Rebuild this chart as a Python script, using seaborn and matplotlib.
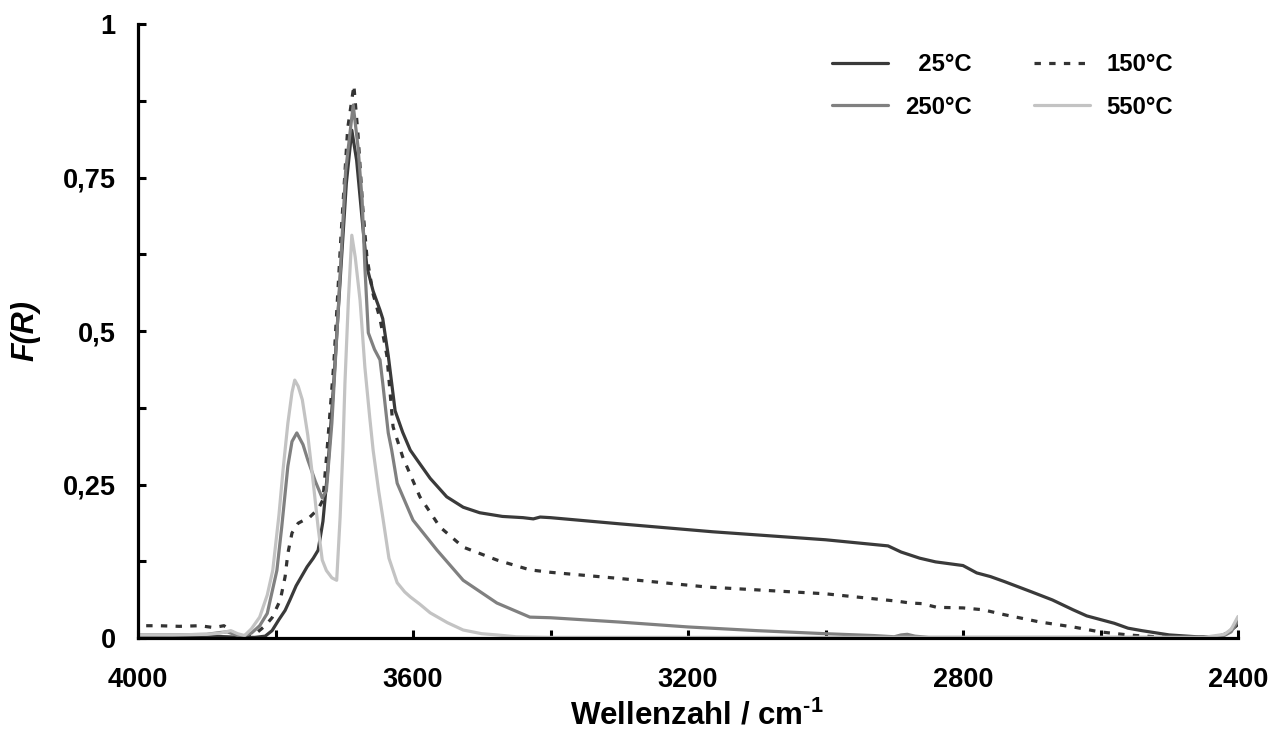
import numpy as np
import pandas as pd
import matplotlib
matplotlib.use("Agg")
import matplotlib.pyplot as plt
import seaborn as sns
from matplotlib.ticker import FixedLocator, FuncFormatter

# ---- data ----
wn_25 = [4000, 3950, 3900, 3870, 3850, 3830, 3815, 3805, 3795, 3786, 3779, 3770, 3754, 3745, 3738,
         3731, 3724, 3715, 3705, 3697, 3689, 3682, 3673, 3667, 3658, 3648, 3644, 3636, 3631, 3626,
         3615, 3604, 3594, 3575, 3551, 3527, 3503, 3470, 3440, 3425, 3415, 3400, 3300, 3164, 3000,
         2909, 2890, 2863, 2840, 2820, 2800, 2780, 2760, 2740, 2700, 2670, 2640, 2620, 2600, 2580,
         2560, 2540, 2500, 2460, 2430, 2415, 2400]
fr_25 = [0.002, 0.002, 0.003, 0.002, 0.001, 0.001, 0.003, 0.012, 0.03, 0.045, 0.062, 0.085, 0.116, 0.13, 0.143,
         0.19, 0.274, 0.42, 0.6, 0.74, 0.827, 0.778, 0.67, 0.604, 0.565, 0.534, 0.52, 0.46, 0.415, 0.37,
         0.335, 0.306, 0.29, 0.26, 0.23, 0.213, 0.204, 0.198, 0.196, 0.194, 0.197, 0.196, 0.186, 0.173, 0.16,
         0.150, 0.14, 0.130, 0.124, 0.121, 0.118, 0.106, 0.1, 0.092, 0.075, 0.062, 0.046, 0.036, 0.03, 0.024,
         0.016, 0.012, 0.005, 0.002, 0.002, 0.008, 0.025]

wn_150 = [4000, 3970, 3940, 3910, 3890, 3875, 3865, 3855, 3845, 3830, 3815, 3805, 3793, 3786, 3782,
          3776, 3767, 3750, 3738, 3731, 3725, 3715, 3705, 3695, 3686, 3680, 3673, 3667, 3658, 3648,
          3638, 3629, 3615, 3590, 3561, 3527, 3478, 3430, 3400, 3300, 3172, 3000, 2896, 2877, 2860,
          2838, 2800, 2771, 2740, 2688, 2640, 2601, 2560, 2535, 2500, 2460, 2430, 2415, 2400]
fr_150 = [0.02, 0.02, 0.019, 0.02, 0.017, 0.02, 0.012, 0.002, 0.001, 0.006, 0.02, 0.033, 0.062, 0.1, 0.138,
          0.171, 0.187, 0.197, 0.21, 0.225, 0.306, 0.45, 0.65, 0.83, 0.9, 0.82, 0.7, 0.62, 0.56, 0.52,
          0.46, 0.344, 0.295, 0.23, 0.181, 0.148, 0.127, 0.111, 0.107, 0.097, 0.083, 0.072, 0.060, 0.057, 0.056,
          0.05, 0.049, 0.046, 0.038, 0.026, 0.018, 0.01, 0.005, 0.003, 0.001, 0.001, 0.001, 0.008, 0.022]

wn_250 = [4000, 3950, 3900, 3880, 3870, 3860, 3850, 3835, 3823, 3812, 3798, 3791, 3782, 3776, 3769,
          3760, 3753, 3742, 3732, 3726, 3718, 3708, 3698, 3687, 3680, 3674, 3670, 3665, 3656, 3648,
          3644, 3636, 3631, 3623, 3600, 3565, 3527, 3478, 3430, 3400, 3300, 3200, 3100, 3000, 2930,
          2900, 2890, 2881, 2870, 2850, 2800, 2700, 2600, 2500, 2440, 2420, 2410, 2400]
fr_250 = [0.005, 0.005, 0.006, 0.009, 0.01, 0.006, 0.002, 0.008, 0.02, 0.04, 0.11, 0.18, 0.28, 0.32, 0.334,
          0.315, 0.29, 0.255, 0.228, 0.24, 0.35, 0.55, 0.76, 0.868, 0.8, 0.713, 0.604, 0.497, 0.47, 0.453,
          0.415, 0.334, 0.306, 0.252, 0.192, 0.143, 0.094, 0.057, 0.034, 0.033, 0.026, 0.018, 0.012, 0.007, 0.004,
          0.002, 0.005, 0.006, 0.003, 0.001, 0.001, 0.001, 0.001, 0.001, 0.001, 0.004, 0.01, 0.028]

wn_550 = [4000, 3950, 3900, 3880, 3865, 3855, 3845, 3835, 3823, 3812, 3804, 3795, 3789, 3782, 3776,
          3772, 3767, 3761, 3753, 3745, 3738, 3732, 3726, 3718, 3711, 3706, 3702, 3699, 3694, 3689,
          3684, 3677, 3670, 3663, 3658, 3650, 3644, 3635, 3623, 3612, 3604, 3590, 3575, 3550, 3527,
          3500, 3478, 3450, 3400, 3300, 3000, 2800, 2600, 2450, 2420, 2410, 2400]
fr_550 = [0.005, 0.005, 0.006, 0.008, 0.012, 0.007, 0.004, 0.015, 0.034, 0.07, 0.11, 0.2, 0.274, 0.35, 0.4,
          0.42, 0.41, 0.388, 0.33, 0.252, 0.18, 0.127, 0.11, 0.098, 0.094, 0.197, 0.306, 0.415, 0.55, 0.656,
          0.62, 0.55, 0.441, 0.36, 0.306, 0.24, 0.197, 0.13, 0.09, 0.075, 0.067, 0.055, 0.041, 0.025, 0.013,
          0.007, 0.005, 0.002, 0.001, 0.001, 0.001, 0.001, 0.001, 0.001, 0.006, 0.014, 0.035]

series_labels = ["  25°C", "150°C", "250°C", "550°C"]
x_tick_values = [4000, 3800, 3600, 3400, 3200, 3000, 2800, 2600, 2400]
y_tick_values = [0, 0.125, 0.25, 0.375, 0.5, 0.625, 0.75, 0.875, 1.0]
y_tick_text = {0: "0", 0.25: "0,25", 0.5: "0,5", 0.75: "0,75", 1.0: "1"}

# ---- style ----
sns.set_theme(style="ticks")
plt.rcParams["font.family"] = ["Liberation Sans", "DejaVu Sans"]
plt.rcParams["font.weight"] = "bold"
plt.rcParams["text.color"] = "black"
plt.rcParams["axes.labelcolor"] = "black"
plt.rcParams["mathtext.fontset"] = "custom"
plt.rcParams["mathtext.bf"] = "Liberation Sans:bold"
plt.rcParams["mathtext.rm"] = "Liberation Sans:bold"

fig = plt.figure(figsize=(12.68, 7.34), dpi=100)
ax = fig.add_axes([138 / 1268, 1 - 638 / 734, 1100 / 1268, 614 / 734])

styles = [
    (wn_25, fr_25, "#3a3a3a", "-"),
    (wn_150, fr_150, "#333333", (0, (2.0, 2.6))),
    (wn_250, fr_250, "#808080", "-"),
    (wn_550, fr_550, "#c3c3c3", "-"),
]
handles = []
for (wn, fr, col, ls), lab in zip(styles, series_labels):
    df = pd.DataFrame({"wn": wn, "F": fr})
    sns.lineplot(data=df, x="wn", y="F", ax=ax, color=col, linewidth=2.3,
                 estimator=None, sort=True, legend=False)
    ln = ax.lines[-1]
    ln.set_linestyle(ls)
    ln.set_label(lab)
    handles.append(ln)

ax.set_xlim(4000, 2400)
ax.set_ylim(0, 1)

ax.xaxis.set_major_locator(FixedLocator(x_tick_values))
ax.xaxis.set_major_formatter(FuncFormatter(lambda v, p: f"{int(round(v))}" if int(round(v)) % 400 == 0 else ""))
ax.yaxis.set_major_locator(FixedLocator(y_tick_values))
ax.yaxis.set_major_formatter(FuncFormatter(lambda v, p: y_tick_text.get(round(v, 3), "")))

ax.tick_params(axis="both", direction="in", length=6, width=2.2, colors="black", labelsize=19.5)
ax.tick_params(axis="x", pad=21)
ax.tick_params(axis="y", pad=16)
for lab in ax.get_xticklabels() + ax.get_yticklabels():
    lab.set_fontweight("bold")

for s in ["top", "right"]:
    ax.spines[s].set_visible(False)
for s in ["left", "bottom"]:
    ax.spines[s].set_linewidth(2.3)
    ax.spines[s].set_color("black")

ax.set_xlabel(r"Wellenzahl / cm$^{\text{-1}}$", fontsize=22.5, fontweight="bold", color="black")
ax.xaxis.set_label_coords(0.508, -0.127)
ax.xaxis.label.set_verticalalignment("center")
ax.set_ylabel("F(R)", fontsize=22, fontweight="bold", fontstyle="italic", labelpad=16, color="black")

order = [handles[0], handles[2], handles[1], handles[3]]
leg = fig.legend(handles=order, labels=[h.get_label() for h in order], ncol=2,
                 loc="upper left", bbox_to_anchor=(832 / 1268, 1 - 53 / 734),
                 bbox_transform=fig.transFigure, frameon=False,
                 prop={"weight": "bold", "size": 17.2},
                 handlelength=2.35, handletextpad=0.7, columnspacing=2.6,
                 labelspacing=0.82, borderpad=0, borderaxespad=0)
for t in leg.get_texts():
    t.set_color("black")

fig.savefig("out.png", dpi=100)
